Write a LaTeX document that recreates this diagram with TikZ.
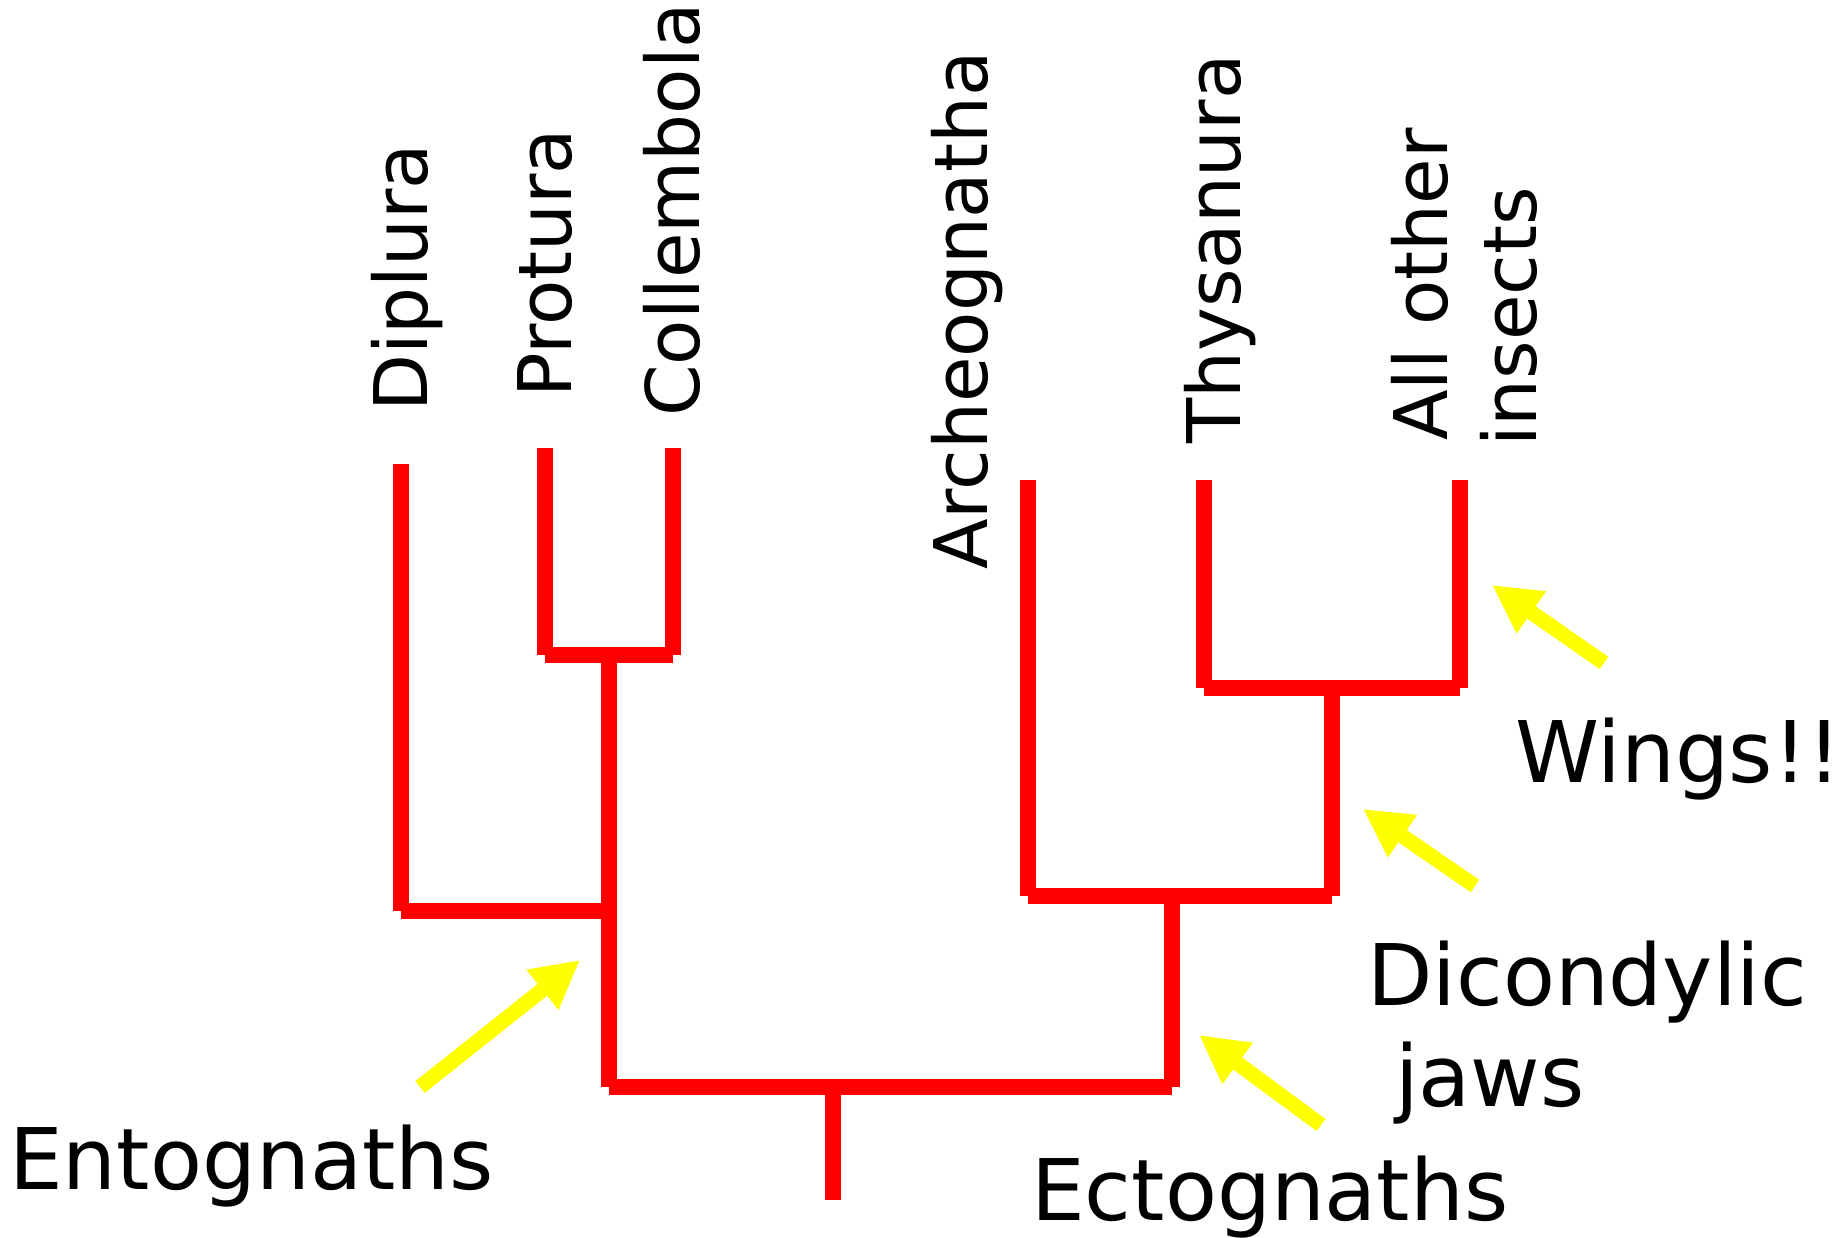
\documentclass[tikz,border=0pt]{standalone}
\usepackage{fontspec}
\setmainfont{DejaVu Sans}
\usetikzlibrary{arrows.meta}
\definecolor{treered}{RGB}{255,0,0}
\definecolor{markyellow}{RGB}{255,255,0}
\begin{document}
\begin{tikzpicture}[x=1pt,y=-1pt,
  branch/.style={draw=treered,line width=15.5pt,line cap=butt},
  pointer/.style={draw=markyellow,line width=15pt,-{Triangle[length=48pt,width=48pt]}},
  taxon/.style={rotate=90,anchor=base west,inner sep=0pt,font=\fontsize{74}{87}\selectfont},
  trait/.style={anchor=base west,inner sep=0pt,font=\fontsize{85}{101}\selectfont}]
\fill[white] (0,0) rectangle (1843,1238);
\useasboundingbox (0,0) rectangle (1843,1238);

% taxon labels
\node[taxon] (diplura) at (427,412) {Diplura};
\node[taxon] (protura) at (571,398) {Protura};
\node[taxon] (collembola) at (699,417) {Collembola};
\node[taxon] (archeognatha) at (987,570) {Archeognatha};
\node[taxon] (thysanura) at (1240,444) {Thysanura};
\node[taxon] (allother) at (1447,441) {All other};
\node[taxon] (insects) at (1536,447) {insects};

% trait labels
\node[trait] (entognaths) at (9,1189) {Entognaths};
\node[trait] (ectognaths) at (1031,1220) {Ectognaths};
\node[trait,align=left] (dicondylic) at (1367,1106) {Dicondylic\\\hspace*{28pt}jaws};
\node[trait] (wings) at (1515,782) {Wings!!};

% tree coordinates
\coordinate (dipT) at (401,464);
\coordinate (dipB) at (401,911);
\coordinate (proT) at (545,448);
\coordinate (proB) at (545,655);
\coordinate (colT) at (673,448);
\coordinate (colB) at (673,655);
\coordinate (pcJ) at (609,655);
\coordinate (enJ) at (609,911);
\coordinate (enB) at (609,1087);
\coordinate (rootJ) at (833,1087);
\coordinate (rootB) at (833,1200);
\coordinate (arcT) at (1028,480);
\coordinate (arcB) at (1028,896);
\coordinate (thyT) at (1204,480);
\coordinate (thyB) at (1204,688);
\coordinate (allT) at (1460,480);
\coordinate (allB) at (1460,688);
\coordinate (wgJ) at (1332,688);
\coordinate (wgB) at (1332,896);
\coordinate (dcJ) at (1172,896);
\coordinate (dcB) at (1172,1087);

% branches
\draw[branch] (dipT) -- (dipB);
\draw[branch] (dipB) -- (enJ);
\draw[branch] (proT) -- (proB);
\draw[branch] (colT) -- (colB);
\draw[branch] (proB) -- (colB);
\draw[branch] (pcJ) -- (enB);
\draw[branch] (enB) -- (dcB);
\draw[branch] (rootJ) -- (rootB);
\draw[branch] (arcT) -- (arcB);
\draw[branch] (thyT) -- (thyB);
\draw[branch] (allT) -- (allB);
\draw[branch] (thyB) -- (allB);
\draw[branch] (wgJ) -- (wgB);
\draw[branch] (arcB) -- (wgB);
\draw[branch] (dcJ) -- (dcB);

% pointers
\coordinate (enA) at (420,1087);
\coordinate (enP) at (580,960);
\coordinate (ecA) at (1321,1125);
\coordinate (ecP) at (1199,1035);
\coordinate (diA) at (1475,886);
\coordinate (diP) at (1363,809);
\coordinate (wiA) at (1604,663);
\coordinate (wiP) at (1492,585);
\draw[pointer] (enA) -- (enP);
\draw[pointer] (ecA) -- (ecP);
\draw[pointer] (diA) -- (diP);
\draw[pointer] (wiA) -- (wiP);
\end{tikzpicture}
\end{document}
